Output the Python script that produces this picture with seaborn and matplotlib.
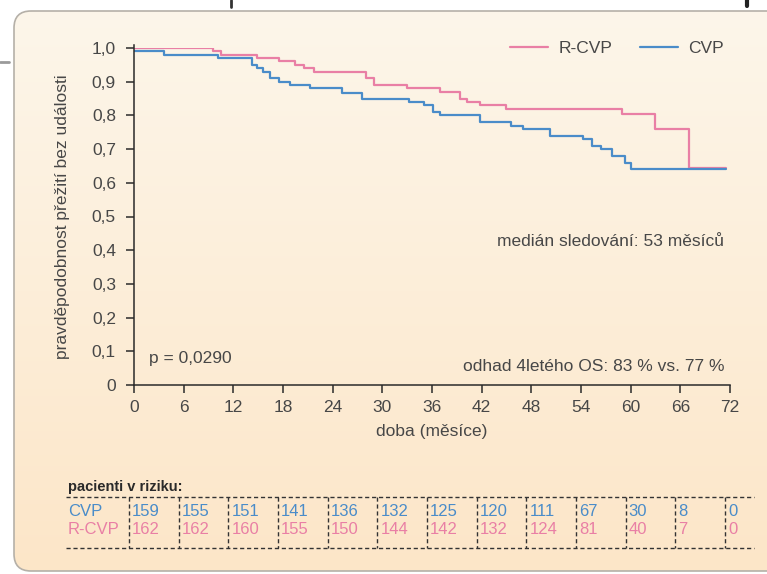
import numpy as np
import pandas as pd
import matplotlib
matplotlib.use("Agg")
import matplotlib.pyplot as plt
from matplotlib.patches import FancyBboxPatch
import seaborn as sns

# Kaplan-Meier steps (months, survival)
rcvp_time = [0, 9.5, 10.5, 14.8, 17.5, 19.4, 20.5, 21.8, 28.0, 29.0, 33.0, 37.0,
             39.4, 40.2, 41.8, 45.0, 59.0, 63.0, 67.0, 71.5]
rcvp_surv = [1.0, 0.99, 0.98, 0.97, 0.96, 0.95, 0.94, 0.93, 0.91, 0.89, 0.88, 0.87,
             0.85, 0.84, 0.83, 0.82, 0.805, 0.76, 0.645, 0.645]

cvp_time = [0, 3.6, 10.2, 14.3, 14.8, 15.6, 16.4, 17.5, 18.9, 21.3, 25.1, 27.5,
            33.2, 35.0, 36.1, 37.0, 41.8, 45.6, 47.0, 50.2, 54.2, 55.3, 56.4,
            57.7, 59.3, 60.1, 71.5]
cvp_surv = [0.99, 0.98, 0.97, 0.95, 0.94, 0.93, 0.91, 0.90, 0.89, 0.88, 0.865, 0.85,
            0.84, 0.83, 0.81, 0.80, 0.78, 0.77, 0.76, 0.74, 0.73, 0.71, 0.70,
            0.68, 0.66, 0.64, 0.64]

risk_months = [0, 6, 12, 18, 24, 30, 36, 42, 48, 54, 60, 66, 72]
risk_cvp = [159, 155, 151, 141, 136, 132, 125, 120, 111, 67, 30, 8, 0]
risk_rcvp = [162, 162, 160, 155, 150, 144, 142, 132, 124, 81, 40, 7, 0]

y_ticks = [0, 0.1, 0.2, 0.3, 0.4, 0.5, 0.6, 0.7, 0.8, 0.9, 1.0]
y_ticklabels = ["0", "0,1", "0,2", "0,3", "0,4", "0,5", "0,6", "0,7", "0,8", "0,9", "1,0"]

PINK = "#e97fa5"
BLUE = "#4a8cc9"
TXT = "#474747"

df = pd.concat([
    pd.DataFrame({"doba": rcvp_time, "surv": rcvp_surv, "group": "R-CVP"}),
    pd.DataFrame({"doba": cvp_time, "surv": cvp_surv, "group": "CVP"}),
])

sns.set_style("white")
plt.rcParams["font.family"] = ["Liberation Sans", "DejaVu Sans"]

W, H = 767, 574
fig = plt.figure(figsize=(W / 100, H / 100), dpi=100)
fig.patch.set_facecolor("white")

# background panel with soft vertical gradient
bg = fig.add_axes([0, 0, 1, 1], zorder=-5)
bg.set_xlim(0, W)
bg.set_ylim(H, 0)
bg.axis("off")
panel = FancyBboxPatch((14, 11), 800, 560, boxstyle="round,pad=0,rounding_size=17",
                       facecolor="none", edgecolor="#b5b0a8", lw=1.2)
grad = np.linspace(0, 1, 256)[:, None]
cmap = matplotlib.colors.LinearSegmentedColormap.from_list("bgc", ["#fdf6ea", "#fce6c8"])
im = bg.imshow(grad, cmap=cmap, extent=[14, 814, 571, 11], aspect="auto")
bg.add_patch(panel)
im.set_clip_path(panel)
# scan artifacts outside the panel
bg.plot([0, 9], [62, 62], color="#9a9a9a", lw=2)
bg.plot([231, 231], [0, 7], color="#333333", lw=2)
bg.plot([747, 747], [0, 6], color="#222222", lw=3)

ax = fig.add_axes([134 / W, 1 - 385 / H, 596 / W, 337 / H])
ax.patch.set_alpha(0)
sns.lineplot(data=df, x="doba", y="surv", hue="group", palette={"R-CVP": PINK, "CVP": BLUE},
             hue_order=["R-CVP", "CVP"], drawstyle="steps-post", estimator=None, sort=False,
             lw=1.6, ax=ax)

ax.set_xlim(0, 72)
ax.set_ylim(0, 1.0)
ax.set_xticks(risk_months)
ax.set_yticks(y_ticks)
ax.set_yticklabels(y_ticklabels)
for s in ["top", "right"]:
    ax.spines[s].set_visible(False)
for s in ["left", "bottom"]:
    ax.spines[s].set_color("#2a2a2a")
    ax.spines[s].set_linewidth(1.1)
ax.spines["left"].set_bounds(0, 1.01)
ax.tick_params(axis="both", direction="out", length=6, width=1.1, color="#2a2a2a",
               labelsize=12.5, labelcolor=TXT, left=True, bottom=True)
ax.tick_params(axis="y", pad=7)
ax.tick_params(axis="x", pad=5)
ax.set_xlabel("doba (měsíce)", fontsize=12.5, color=TXT, labelpad=6)
ax.set_ylabel("pravděpodobnost přežití bez události", fontsize=12.5, color=TXT, labelpad=16)

ax.legend(frameon=False, ncol=2, loc="center right", bbox_to_anchor=(0.99, 1.0),
          fontsize=12.5, handlelength=2.2, columnspacing=1.6, handletextpad=0.6,
          borderpad=0, borderaxespad=0, labelcolor=TXT)

ax.text(0.99, 0.425, "medián sledování: 53 měsíců", transform=ax.transAxes,
        ha="right", va="center", fontsize=12.5, color=TXT)
ax.text(0.99, 0.055, "odhad 4letého OS: 83 % vs. 77 %", transform=ax.transAxes,
        ha="right", va="center", fontsize=12.5, color=TXT)
ax.text(0.025, 0.08, "p = 0,0290", transform=ax.transAxes,
        ha="left", va="center", fontsize=12.5, color=TXT)

# number-at-risk table
tr = matplotlib.transforms.blended_transform_factory(ax.transData, fig.transFigure)
def fy(py):
    return 1 - py / H

fig.text(68 / W, fy(487), "pacienti v riziku:", fontsize=10.5, fontweight="bold",
         color="#2a2a2a", ha="left", va="center")
dash = dict(color="#333333", lw=1.0, ls=(0, (3, 2)))
fig.add_artist(matplotlib.lines.Line2D([66 / W, 754 / W], [fy(497), fy(497)], **dash))
fig.add_artist(matplotlib.lines.Line2D([66 / W, 754 / W], [fy(548), fy(548)], **dash))
fig.text(68 / W, fy(511), "CVP", fontsize=12, color=BLUE, ha="left", va="center")
fig.text(68 / W, fy(530), "R-CVP", fontsize=12, color=PINK, ha="left", va="center")
for m, c, r in zip(risk_months, risk_cvp, risk_rcvp):
    ax.add_artist(matplotlib.lines.Line2D([m - 0.6, m - 0.6], [fy(497), fy(548)],
                                          transform=tr, clip_on=False, **dash))
    ax.text(m - 0.25, fy(511), str(c), transform=tr, fontsize=12, color=BLUE,
            ha="left", va="center", clip_on=False)
    ax.text(m - 0.25, fy(530), str(r), transform=tr, fontsize=12, color=PINK,
            ha="left", va="center", clip_on=False)

fig.savefig("out.png", dpi=100, facecolor="white")
